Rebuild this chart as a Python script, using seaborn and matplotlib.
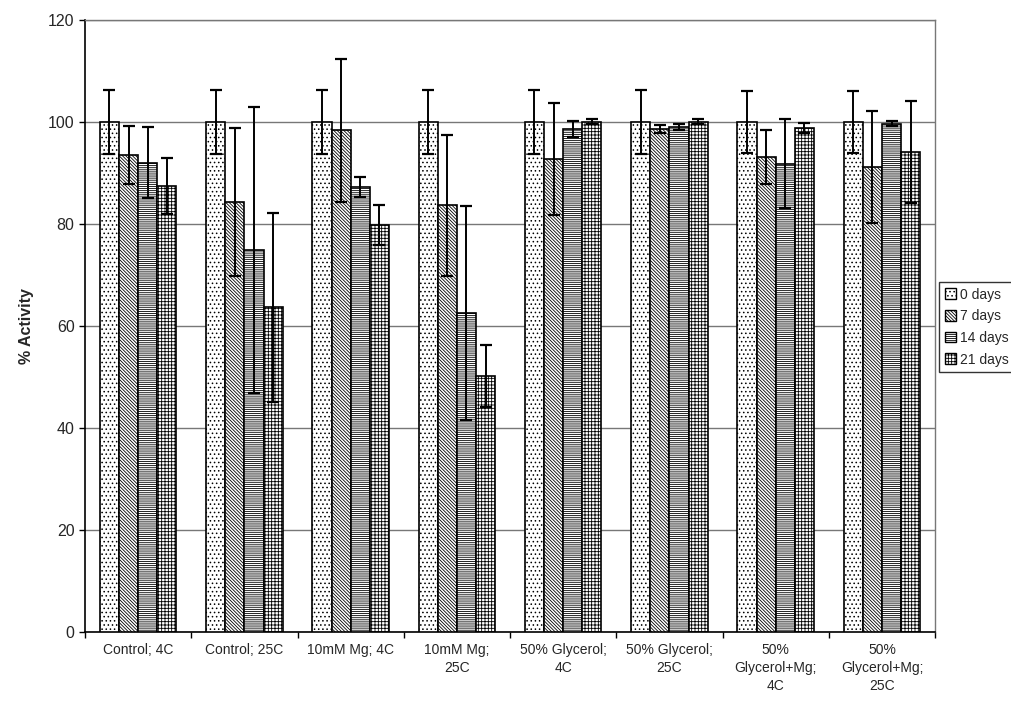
import matplotlib
matplotlib.use("Agg")
import matplotlib.pyplot as plt
import seaborn as sns
import pandas as pd
import numpy as np
from matplotlib.patches import Patch

conditions = ["Control; 4C", "Control; 25C", "10mM Mg; 4C", "10mM Mg;\n25C",
              "50% Glycerol;\n4C", "50% Glycerol;\n25C",
              "50%\nGlycerol+Mg;\n4C", "50%\nGlycerol+Mg;\n25C"]
days = ["0 days", "7 days", "14 days", "21 days"]

day0 = [100, 100, 100, 100, 100, 100, 100, 100]
day7 = [93.5, 84.3, 98.4, 83.7, 92.7, 98.6, 93.1, 91.2]
day14 = [92.0, 74.9, 87.2, 62.5, 98.6, 99.0, 91.8, 99.6]
day21 = [87.4, 63.7, 79.8, 50.2, 100.0, 100.0, 98.8, 94.1]

err0 = [6.3, 6.3, 6.3, 6.3, 6.3, 6.3, 6.0, 6.0]
err7 = [5.7, 14.5, 14.0, 13.8, 11.0, 0.8, 5.3, 11.0]
err14 = [7.0, 28.0, 2.0, 21.0, 1.5, 0.5, 8.7, 0.5]
err21 = [5.5, 18.5, 4.0, 6.0, 0.5, 0.5, 1.0, 10.0]

values = [day0, day7, day14, day21]
errors = [err0, err7, err14, err21]
hatches = ["....", "\\\\\\\\\\\\\\\\\\\\", "--------", "+++++"]

rows = []
for d, vals in zip(days, values):
    for c, v in zip(conditions, vals):
        rows.append({"cond": c, "day": d, "val": v})
df = pd.DataFrame(rows)

sns.set_style("white")
plt.rcParams["font.family"] = ["Liberation Sans", "DejaVu Sans"]
plt.rcParams["hatch.linewidth"] = 0.6
plt.rcParams["hatch.color"] = "black"

fig = plt.figure(figsize=(10.12, 7.08), dpi=100)
ax = fig.add_axes([0.084, 0.107, 0.84, 0.865])

sns.barplot(data=df, x="cond", y="val", hue="day", order=conditions,
            hue_order=days, palette=["white"] * 4, edgecolor="black",
            linewidth=1.2, width=0.72, errorbar=None, ax=ax, legend=False,
            zorder=3)

for cont, h, errs in zip(ax.containers, hatches, errors):
    xs, ys = [], []
    for bar in cont:
        bar.set_hatch(h)
        bar.set_facecolor("white")
        xs.append(bar.get_x() + bar.get_width() / 2)
        ys.append(bar.get_height())
    ax.errorbar(xs, ys, yerr=errs, fmt="none", ecolor="black",
                elinewidth=1.4, capsize=4, capthick=1.6, zorder=4)

ax.set_ylim(0, 120)
ax.set_xlim(-0.5, len(conditions) - 0.5)
ax.set_yticks(np.arange(0, 121, 20))
ax.yaxis.grid(True, color="#777777", linewidth=1.0, zorder=0)
ax.set_axisbelow(True)
ax.set_xlabel("")
ax.set_ylabel("% Activity", fontsize=11.5, fontweight="bold", labelpad=10)
ax.tick_params(axis="y", labelsize=11.5, left=True, length=4, width=1, color="black")
ax.tick_params(axis="x", labelsize=10, length=0, pad=8)
ax.set_xticks(np.arange(-0.5, len(conditions), 1.0), minor=True)
ax.tick_params(axis="x", which="minor", bottom=True, length=4, width=1, color="black")
for lab in ax.get_xticklabels():
    lab.set_verticalalignment("top")
    lab.set_multialignment("center")
    lab.set_linespacing(1.35)

for s in ["left", "bottom"]:
    ax.spines[s].set_color("black")
    ax.spines[s].set_linewidth(1.2)
for s in ["top", "right"]:
    ax.spines[s].set_color("#777777")
    ax.spines[s].set_linewidth(1.0)

handles = [Patch(facecolor="white", edgecolor="black", hatch=h, label=d)
           for h, d in zip(hatches, days)]
fig.legend(handles=handles, loc="center left", bbox_to_anchor=(0.928, 0.538),
           fontsize=10, frameon=True, fancybox=False, edgecolor="black",
           handlelength=0.8, handleheight=0.8, handletextpad=0.3,
           borderpad=0.4, labelspacing=0.55, borderaxespad=0)

fig.savefig("out.png", dpi=100, facecolor="white")
